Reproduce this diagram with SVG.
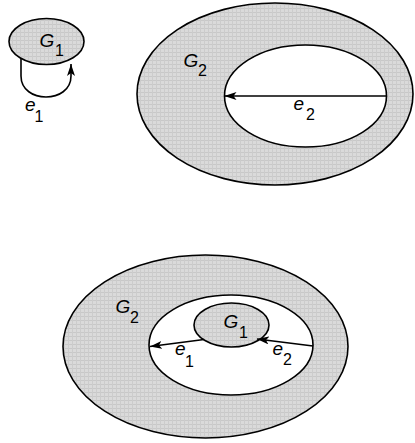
<svg xmlns="http://www.w3.org/2000/svg" width="415" height="443" viewBox="0 0 415 443">
<style>
.sh{fill:url(#hatch);stroke:#000;stroke-width:1.6}
.wh{fill:#fff;stroke:#000;stroke-width:1.6}
.ed{fill:none;stroke:#000;stroke-width:1.6}
.lb{font-family:"Liberation Sans",Arial,sans-serif;font-style:italic;font-size:19px;fill:#000}
.sb{font-family:"Liberation Sans",Arial,sans-serif;font-size:16px;fill:#000}
</style>
<defs>
<pattern id="hatch" width="4" height="4" patternUnits="userSpaceOnUse">
<rect width="4" height="4" fill="#dadada"/>
<rect width="4" height="1" fill="#c8c8c8"/>
<rect width="1" height="4" fill="#cccccc"/>
</pattern>
<marker id="ah" viewBox="0 0 12 8" refX="12" refY="4" markerWidth="12" markerHeight="8" markerUnits="userSpaceOnUse" orient="auto">
<path d="M0,0 L12,4 L0,8 L3,4 Z" fill="#000"/>
</marker>
</defs>
<g id="top-G1">
<ellipse class="sh" cx="46.5" cy="41.5" rx="37.5" ry="23"/>
<text class="lb" x="39.5" y="47">G</text><text class="sb" x="55" y="56">1</text>
</g>
<g id="top-G2">
<ellipse class="sh" cx="275" cy="94" rx="138" ry="91"/>
<ellipse class="wh" cx="305.5" cy="96" rx="81" ry="51"/>
<text class="lb" x="183.5" y="67">G</text><text class="sb" x="198" y="76">2</text>
</g>
<g id="bottom-G2">
<ellipse class="sh" cx="205.5" cy="346.5" rx="142.5" ry="91.5"/>
<ellipse class="wh" cx="231" cy="345" rx="82" ry="50"/>
<text class="lb" x="115.5" y="313">G</text><text class="sb" x="130" y="323">2</text>
</g>
<g id="bottom-G1">
<ellipse class="sh" cx="231.5" cy="325" rx="37.5" ry="22"/>
<text class="lb" x="223.5" y="328">G</text><text class="sb" x="239" y="338">1</text>
</g>
<g id="connectors">
<path class="ed" d="M21,58 L21,76 C21,104 71,104 71,76 L71,64" marker-end="url(#ah)"/>
<path class="ed" d="M386.5,96 L224.5,96" marker-end="url(#ah)"/>
<path class="ed" d="M204,339.5 L150,346.5" marker-end="url(#ah)"/>
<path class="ed" d="M313,346 L257,339" marker-end="url(#ah)"/>
</g>
<g id="edge-labels">
<text class="lb" x="25" y="110.5">e</text><text class="sb" x="34.5" y="122">1</text>
<text class="lb" x="293.5" y="110">e</text><text class="sb" x="306" y="120">2</text>
<text class="lb" x="175" y="355">e</text><text class="sb" x="185" y="366.5">1</text>
<text class="lb" x="272.5" y="355">e</text><text class="sb" x="283" y="365">2</text>
</g>
</svg>
